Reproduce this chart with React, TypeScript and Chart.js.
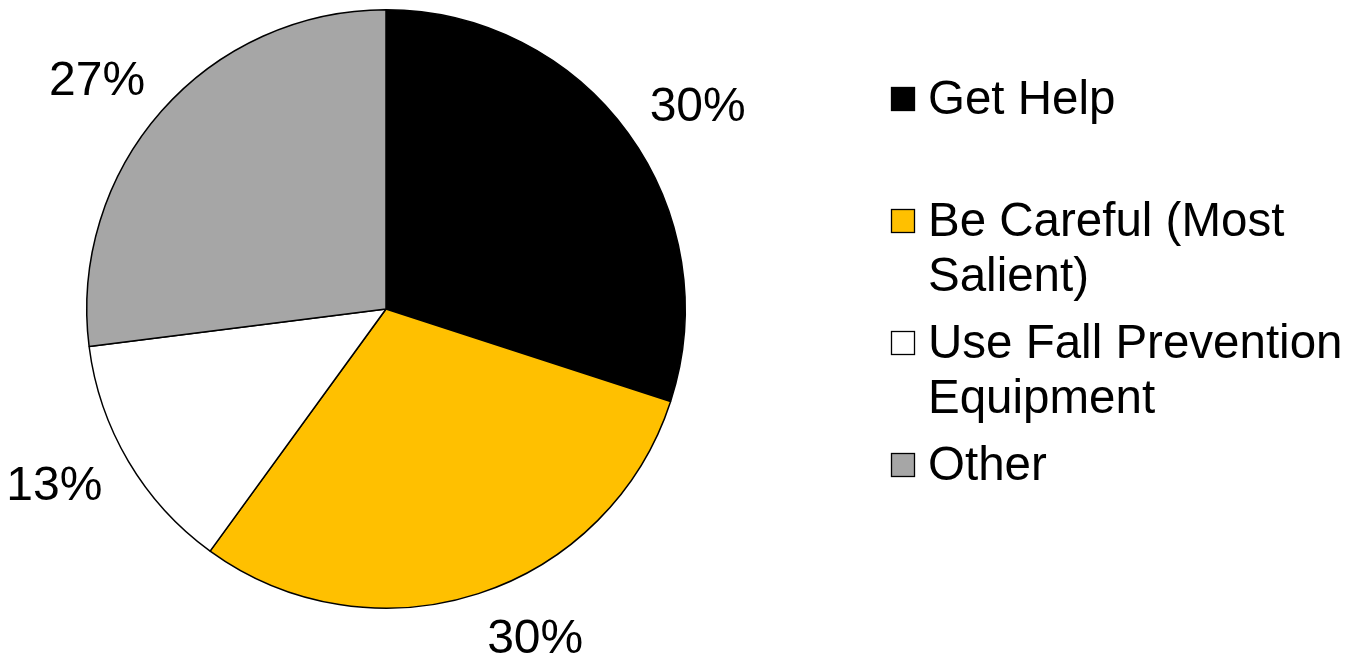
import React, { useEffect, useRef } from "react";
import { Chart, registerables } from "chart.js";

Chart.register(...registerables);

const categories = ["Get Help", "Be Careful (Most Salient)", "Use Fall Prevention Equipment", "Other"];
const legendLines = [["Get Help"], ["Be Careful (Most", "Salient)"], ["Use Fall Prevention", "Equipment"], ["Other"]];
const shares = [30, 30, 13, 27];
const pctLabels = ["30%", "30%", "13%", "27%"];
const colors = ["#000000", "#FFC000", "#FFFFFF", "#A6A6A6"];

const W = 1354;
const H = 659;
const LEGEND_FONT = '47.5px "Liberation Sans", Arial, sans-serif';
const LABEL_FONT = '48px "Liberation Sans", Arial, sans-serif';

const labelPlugin = {
  id: "pctLabels",
  afterDatasetsDraw(chart: any) {
    const ctx = chart.ctx;
    const meta = chart.getDatasetMeta(0);
    ctx.save();
    ctx.font = LABEL_FONT;
    ctx.fillStyle = "#000";
    ctx.textAlign = "center";
    ctx.textBaseline = "middle";
    meta.data.forEach((arc: any, i: number) => {
      const p = arc.getProps(["x", "y", "startAngle", "endAngle", "outerRadius"], true);
      const mid = (p.startAngle + p.endAngle) / 2;
      const Rx = p.outerRadius + 86;
      const Ry = p.outerRadius + 47;
      let lx = p.x + Rx * Math.cos(mid);
      let ly = p.y + Ry * Math.sin(mid);
      const half = 21;
      if (ly > H - half || ly < half) {
        ly = Math.min(Math.max(ly, half), H - half);
        const D = Ry + 15;
        const dy = ly - p.y;
        const dx = Math.sqrt(Math.max(D * D - dy * dy, 0));
        lx = p.x + (Math.cos(mid) >= 0 ? dx : -dx);
      }
      ctx.fillText(pctLabels[i], lx, ly + 2);
    });
    ctx.restore();
  },
};

const legendPlugin = {
  id: "customLegend",
  afterDraw(chart: any) {
    const ctx = chart.ctx;
    const area = chart.chartArea;
    const boxX = area.right + 205;
    const textX = boxX + 37;
    const firstY = 99;
    const slot = 122;
    const lineH = 55;
    const box = 24;
    ctx.save();
    ctx.font = LEGEND_FONT;
    ctx.textAlign = "left";
    ctx.textBaseline = "middle";
    legendLines.forEach((lines, i) => {
      const y0 = firstY + slot * i;
      ctx.fillStyle = colors[i];
      ctx.fillRect(boxX, y0 - box / 2, box, box);
      ctx.strokeStyle = "#000";
      ctx.lineWidth = 1.3;
      ctx.strokeRect(boxX + 0.5, y0 - box / 2 + 0.5, box - 1, box - 1);
      ctx.fillStyle = "#000";
      lines.forEach((t, j) => {
        ctx.fillText(t, textX, y0 + 2 + j * lineH);
      });
    });
    ctx.restore();
  },
};

export default function App() {
  const ref = useRef<HTMLCanvasElement | null>(null);
  useEffect(() => {
    if (!ref.current) return;
    const chart = new Chart(ref.current, {
      type: "pie",
      data: {
        labels: categories,
        datasets: [
          {
            data: shares,
            backgroundColor: colors,
            borderColor: "#000000",
            borderWidth: 1.5,
          },
        ],
      },
      options: {
        responsive: false,
        animation: false,
        devicePixelRatio: 1,
        layout: { padding: { left: 86, right: 668, top: 9, bottom: 50 } },
        plugins: {
          legend: { display: false },
          tooltip: { enabled: false },
        },
      },
      plugins: [labelPlugin, legendPlugin],
    });
    return () => chart.destroy();
  }, []);
  return (
    <div style={{ position: "absolute", left: 0, top: 0, width: W, height: H, background: "#fff" }}>
      <canvas ref={ref} width={W} height={H} style={{ width: W, height: H, display: "block" }} />
    </div>
  );
}
